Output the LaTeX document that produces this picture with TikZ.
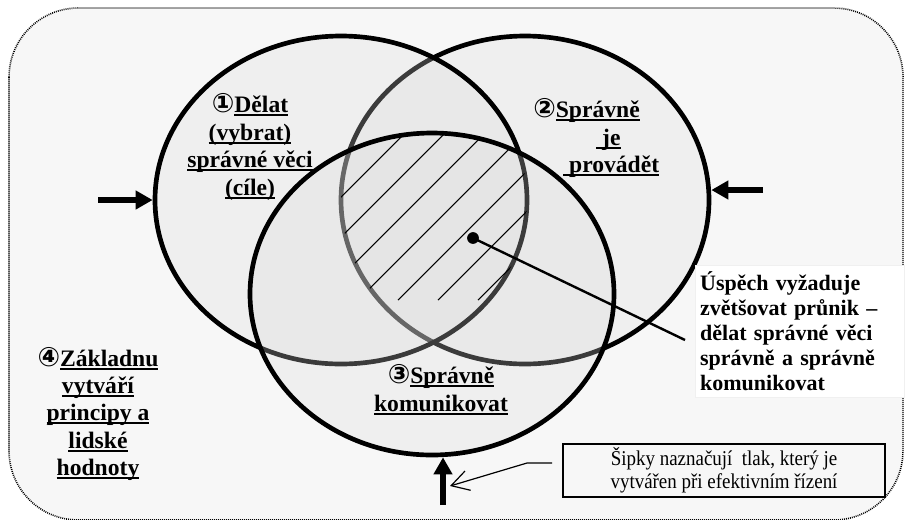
\documentclass[tikz,border=0pt]{standalone}
\usepackage{fontspec}
\setmainfont{Liberation Serif}
\newfontfamily\cfont{DejaVu Sans}
\newfontfamily\narrowserif{Liberation Serif}[FakeStretch=0.9]
\usetikzlibrary{arrows.meta,shapes.geometric}
\definecolor{panel}{HTML}{F7F7F7}
\definecolor{disc}{HTML}{DCDCDC}
% underline at a fixed depth below the baseline
\newcommand\ulw[1]{\setbox0=\hbox{#1}\rlap{\rule[-3pt]{\wd0}{1.5pt}}\box0}
\newcommand\cn[1]{{\cfont\fontsize{20}{20}\selectfont #1}}
\begin{document}
\begin{tikzpicture}[x=0.75pt,y=-0.75pt,
  disk/.style={ellipse, draw=black, line width=3.5pt, fill=disc, fill opacity=0.27, inner sep=0pt},
  lbl/.style={font=\bfseries\fontsize{17.7}{21}\selectfont, inner sep=0pt, anchor=base},
  lblw/.style={lbl, anchor=base west},
  push/.style={line width=4.5pt, -{Triangle[length=12.75pt,width=13.5pt]}},
]
\useasboundingbox (0,0) rectangle (906,519);
\fill[white] (0,0) rectangle (906,519);
% dotted rounded panel
\draw[fill=panel, line width=1.2pt, dash pattern=on 0.7pt off 0.8pt, rounded corners=52pt]
  (9,8) rectangle (903,520);

% three overlapping discs
\node[disk, minimum width=276pt, minimum height=246pt] (R) at (525,200) {};
\node[disk, minimum width=279pt, minimum height=246pt] (L) at (341,200) {};
\node[disk, minimum width=273pt, minimum height=241.5pt] (B) at (432,294) {};

% hatching of the common part
\begin{scope}
  \clip (L.center) ellipse [x radius=139.5pt, y radius=123pt];
  \clip (R.center) ellipse [x radius=138pt, y radius=123pt];
  \clip (B.center) ellipse [x radius=136.5pt, y radius=120.75pt];
  \foreach \c in {538,578,...,778}
    \draw[line width=0.8pt] (\c-300,300) -- (\c-100,100);
\end{scope}

% pointer to the explanation
\node[circle, fill=black, inner sep=0pt, minimum size=8.8pt] (dot) at (473,238) {};
\coordinate (lead) at (685,340);
\draw[line width=1.8pt] (dot.center) -- (lead);

\node[draw=gray!12, fill=white, line width=0.5pt, minimum height=99pt, text width=149pt,
      inner xsep=3.75pt, align=left, font=\bfseries\fontsize{16.5}{18.75}\selectfont]
  (succ) at (799.5,331)
  {Úspěch vyžaduje\\ zvětšovat průnik –\\ dělat správné věci\\ správně a správně\\ komunikovat};

% labels of the discs
\node[lbl] (l1a) at (250,112) {\cn{①}\ulw{Dělat}};
\node[lbl] (l1b) at (250,140) {\ulw{(vybrat)}};
\node[lbl] (l1c) at (250,167) {\ulw{správné věci}};
\node[lbl] (l1d) at (250,195) {\ulw{(cíle)}};

\node[lblw] (l2a) at (533,117) {\cn{②}\ulw{Správně}};
\node[lblw] (l2b) at (596,145) {\ulw{\ je}};
\node[lblw] (l2c) at (563,172) {\ulw{\ provádět}};

\node[lbl] (l3a) at (441,383) {\cn{③}\ulw{Správně}};
\node[lbl] (l3b) at (441,411) {\ulw{komunikovat}};

\node[lbl] (l4a) at (98,366) {\cn{④}\ulw{Základnu}};
\node[lbl] (l4b) at (98,393) {\ulw{vytváří}};
\node[lbl] (l4c) at (98,420) {\ulw{principy a}};
\node[lbl] (l4d) at (98,448) {\ulw{lidské}};
\node[lbl] (l4e) at (98,475) {\ulw{hodnoty}};

% pressure arrows
\coordinate (pl) at (98,200);
\coordinate (pr) at (763,190);
\coordinate (pb) at (443,505);
\draw[push] (pl) -- (L.west);
\draw[push] (pr) -- (pr -| R.east);
\draw[push] (pb) -- (pb |- B.south);

% note box
\node[draw, line width=1.1pt, minimum width=241.5pt, minimum height=39.75pt, inner sep=0pt,
      align=center, font=\narrowserif\fontsize{15.8}{17.25}\selectfont]
  (note) at (724,470.5) {Šipky naznačují\ \ tlak, který je\\ vytvářen při efektivním řízení};
\coordinate (k0) at (552,463);
\coordinate (k1) at (527,463);
\coordinate (k2) at (450,486);
\draw[line width=0.9pt, -{Straight Barb[length=13pt,width=15pt]}] (k0) -- (k1) -- (k2);
\end{tikzpicture}
\end{document}
